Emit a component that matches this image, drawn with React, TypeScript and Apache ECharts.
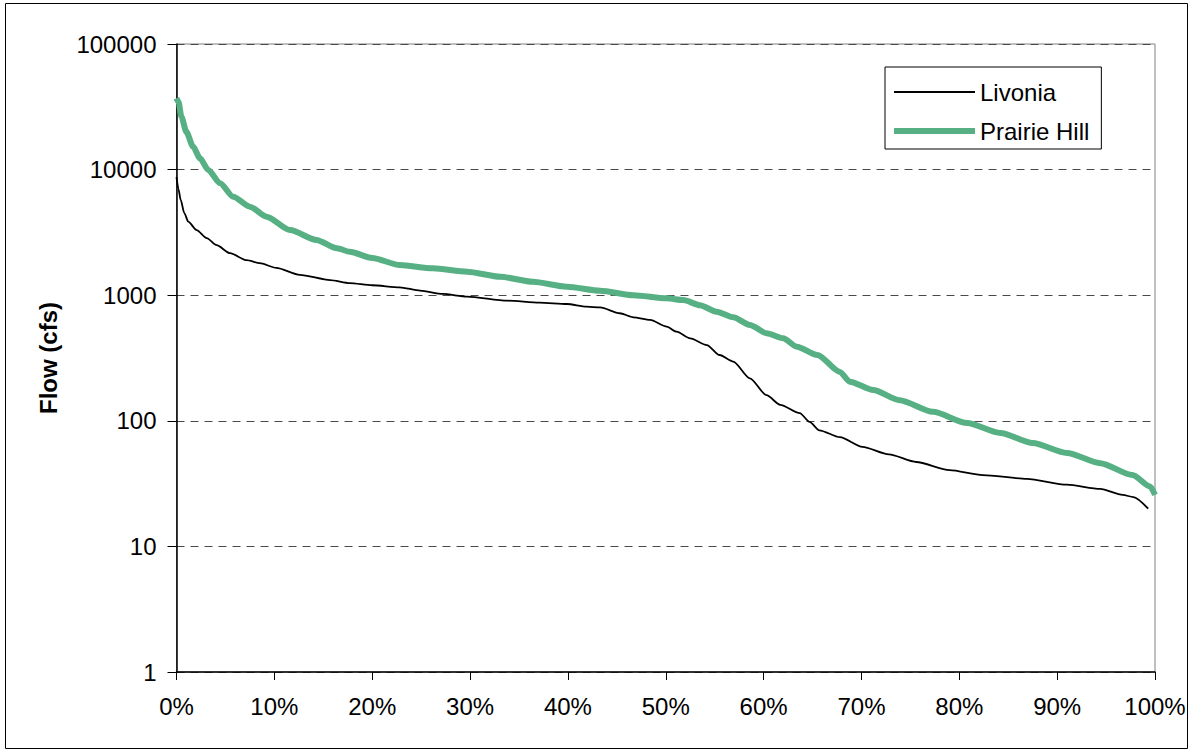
import React, { useEffect, useRef } from "react";
import * as echarts from "echarts";

const xTicks = [0, 10, 20, 30, 40, 50, 60, 70, 80, 90, 100];
const yTicks = [1, 10, 100, 1000, 10000, 100000];

const livoniaX = [0, 0.2, 0.43, 0.8, 1.2, 2.06, 3.09, 4.1, 5.47, 7.17, 8.5, 10.2, 12.6, 15.7, 17.7, 20, 22.8, 24.9, 27.2, 29.7, 33.8, 37.1, 39.9, 41.9, 43.3, 45.3, 46.7, 48.4, 50.1, 51.1, 52.5, 54.2, 55.5, 56.9, 58.6, 60.3, 61.7, 63.7, 64.7, 65.7, 67.8, 70.1, 72.8, 75.6, 79, 82.4, 86.9, 91, 94.4, 96.7, 97.8, 99.3];
const livoniaY = [8700, 7000, 5730, 4500, 3850, 3300, 2850, 2500, 2160, 1900, 1800, 1650, 1450, 1320, 1250, 1200, 1156, 1086, 1023, 973, 904, 872, 851, 810, 800, 718, 667, 635, 562, 512, 453, 401, 334, 296, 218, 160, 134, 115, 98, 84, 74, 62, 54, 47, 40.5, 37, 34.5, 31, 28.7, 25.7, 24.7, 20];

const prairieX = [0, 0.2, 0.5, 1.0, 1.7, 2.4, 3.25, 4.45, 5.8, 7.5, 9.2, 11.6, 14.3, 16.4, 17.7, 20, 22.8, 26.2, 29.7, 33.1, 36.4, 39.9, 43.3, 46.7, 50.1, 51.8, 53.5, 55.2, 56.9, 58.6, 60.3, 62, 63.4, 65.5, 67.8, 68.8, 71.2, 73.9, 77.3, 80.8, 84.2, 87.5, 91, 94.4, 97.7, 99.5, 100];
const prairieY = [37000, 34700, 26400, 20000, 15200, 12300, 9930, 7780, 6080, 5070, 4220, 3300, 2750, 2360, 2220, 1980, 1740, 1636, 1538, 1403, 1280, 1169, 1086, 1000, 944, 915, 832, 739, 667, 580, 498, 454, 389, 334, 245, 205, 176, 146, 118, 96, 80, 66.5, 55.4, 46, 37, 30, 25.7];

const seriesNames = ["Livonia", "Prairie Hill"];
const GREEN = "#56b083";

export default function App() {
  const ref = useRef<HTMLDivElement>(null);
  useEffect(() => {
    document.body.style.margin = "0";
    const chart = echarts.init(ref.current!, null, { renderer: "svg" });
    const font = "Arial, 'Liberation Sans', sans-serif";
    chart.setOption({
      animation: false,
      backgroundColor: "#fff",
      textStyle: { fontFamily: font },
      graphic: [
        {
          type: "rect",
          shape: { x: 5.5, y: 3.5, width: 1182, height: 745 },
          style: { fill: "none", stroke: "#000", lineWidth: 1 },
          silent: true,
        },
      ],
      grid: {
        left: 176.5,
        top: 44,
        right: 36,
        bottom: 78,
        show: true,
        borderColor: "#808080",
        borderWidth: 1,
        backgroundColor: "transparent",
      },
      legend: {
        orient: "vertical",
        left: 885,
        top: 67,
        backgroundColor: "#fff",
        borderColor: "#000",
        borderWidth: 1,
        padding: [12, 12, 5, 9],
        itemWidth: 81,
        itemHeight: 20,
        itemGap: 13,
        textStyle: { fontSize: 24, color: "#000", fontFamily: font, lineHeight: 26 },
        data: [
          { name: seriesNames[0], icon: "path://M0,0 L78,0 L78,2 L0,2 Z", itemStyle: { color: "#000" } },
          { name: seriesNames[1], icon: "path://M0,0 L78,0 L78,6 L0,6 Z", itemStyle: { color: GREEN } },
        ],
      },
      xAxis: {
        type: "value",
        min: 0,
        max: 100,
        interval: 10,
        axisLine: { show: true, lineStyle: { color: "#000", width: 1.5 } },
        axisTick: { show: true, inside: false, length: 8, lineStyle: { color: "#000" } },
        splitLine: { show: false },
        axisLabel: {
          formatter: (v: number) => (xTicks.includes(v) ? `${v}%` : ""),
          fontSize: 24,
          color: "#000",
          margin: 22,
          fontFamily: font,
        },
      },
      yAxis: {
        type: "log",
        logBase: 10,
        min: yTicks[0],
        max: yTicks[yTicks.length - 1],
        name: "Flow (cfs)",
        nameLocation: "middle",
        nameGap: 116,
        nameTextStyle: { fontSize: 24, fontWeight: "bold", color: "#000", fontFamily: font },
        axisLine: { show: true, lineStyle: { color: "#000", width: 1.5 } },
        axisTick: { show: true, inside: false, length: 9, lineStyle: { color: "#000" } },
        minorTick: { show: false },
        splitLine: { show: true, lineStyle: { color: "#4a4a4a", type: [8, 6], width: 1 } },
        axisLabel: {
          formatter: (v: number) => String(Math.round(v)),
          fontSize: 24,
          color: "#000",
          margin: 20,
          fontFamily: font,
        },
      },
      series: [
        {
          name: seriesNames[0],
          type: "line",
          data: livoniaX.map((x, i) => [x, livoniaY[i]]),
          showSymbol: false,
          symbol: "none",
          smooth: 0.25,
          smoothMonotone: "x",
          lineStyle: { color: "#000", width: 1.8 },
          itemStyle: { color: "#000" },
          z: 3,
        },
        {
          name: seriesNames[1],
          type: "line",
          data: prairieX.map((x, i) => [x, prairieY[i]]),
          showSymbol: false,
          symbol: "none",
          smooth: 0.25,
          smoothMonotone: "x",
          lineStyle: { color: GREEN, width: 6 },
          itemStyle: { color: GREEN },
          z: 2,
        },
      ],
    });
    return () => chart.dispose();
  }, []);
  return <div ref={ref} style={{ width: 1191, height: 750 }} />;
}
